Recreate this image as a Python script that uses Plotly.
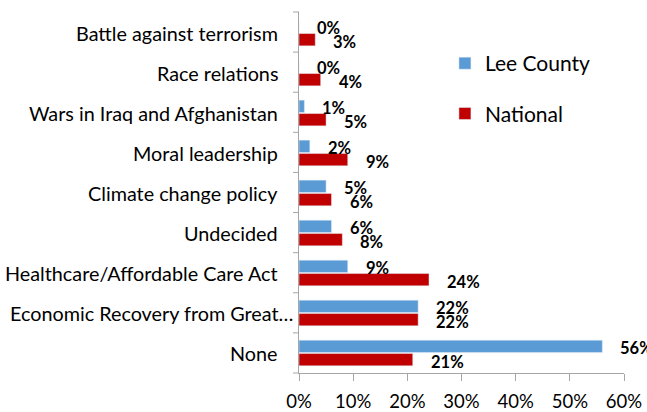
import plotly.graph_objects as go

categories = [
    "Battle against terrorism",
    "Race relations",
    "Wars in Iraq and Afghanistan",
    "Moral leadership",
    "Climate change policy",
    "Undecided",
    "Healthcare/Affordable Care Act",
    "Economic Recovery from Great…",
    "None",
]
lee_county = [0, 0, 1, 2, 5, 6, 9, 22, 56]
national = [3, 4, 5, 9, 6, 8, 24, 22, 21]
x_ticks = [0, 10, 20, 30, 40, 50, 60]
x_tick_labels = [f"{t}%" for t in x_ticks]

BLUE = "#5b9bd5"
RED = "#c00000"
AXIS = "#a6a6a6"
FONT = "Lato"
PLOT_W = 647 - 299 - 23

fig = go.Figure()
fig.add_trace(go.Bar(y=categories, x=lee_county, orientation="h", name="Lee County",
                     marker=dict(color=BLUE), legendgroup="a"))
fig.add_trace(go.Bar(y=categories, x=national, orientation="h", name="National",
                     marker=dict(color=RED), legendgroup="b"))

# value labels, nudged to sit beside each bar of the pair
for vals, dy in ((lee_county, 5), (national, -9)):
    for c, v in zip(categories, vals):
        fig.add_annotation(x=v, y=c, text=f"<b>{v}%</b>", showarrow=False,
                           xanchor="left", yshift=dy, xshift=16,
                           font=dict(family=FONT, size=16.5, color="#000"))

# category names, right-aligned left of the axis (the truncated one sits closer)
for c in categories:
    gap = 4 if c.endswith("…") else 19
    fig.add_annotation(x=-gap / PLOT_W, xref="paper", y=c, yref="y", text=c,
                       showarrow=False, xanchor="right",
                       font=dict(family=FONT, size=19.8, color="#000"))

fig.update_layout(
    width=647, height=412,
    margin=dict(l=299, r=23, t=12, b=39),
    paper_bgcolor="white", plot_bgcolor="white",
    barmode="group", bargap=0.33, bargroupgap=0.08,
    font=dict(family=FONT, size=19, color="#000"),
    showlegend=True,
    legend=dict(x=0.449, y=0.914, xanchor="left", yanchor="top",
                font=dict(family=FONT, size=21, color="#000"),
                tracegroupgap=20, traceorder="grouped",
                bgcolor="rgba(0,0,0,0)"),
    xaxis=dict(range=[0, 60], tickvals=x_ticks, ticktext=x_tick_labels,
               showgrid=False, zeroline=False, showline=True,
               linecolor=AXIS, linewidth=1, ticks="outside",
               tickcolor=AXIS, ticklen=7, ticklabelstandoff=5, automargin=False,
               tickfont=dict(family=FONT, size=18.5, color="#000")),
    yaxis=dict(autorange="reversed", showgrid=False, zeroline=False,
               showline=True, linecolor=AXIS, linewidth=1,
               ticks="", showticklabels=False, automargin=False),
)

# category dividers on the value axis, as short outside ticks
for i in range(len(categories) + 1):
    fig.add_shape(type="line", xref="paper", yref="paper",
                  x0=-6 / PLOT_W, x1=0, y0=i / len(categories), y1=i / len(categories),
                  line=dict(color=AXIS, width=1))

fig.write_html("out.html")
